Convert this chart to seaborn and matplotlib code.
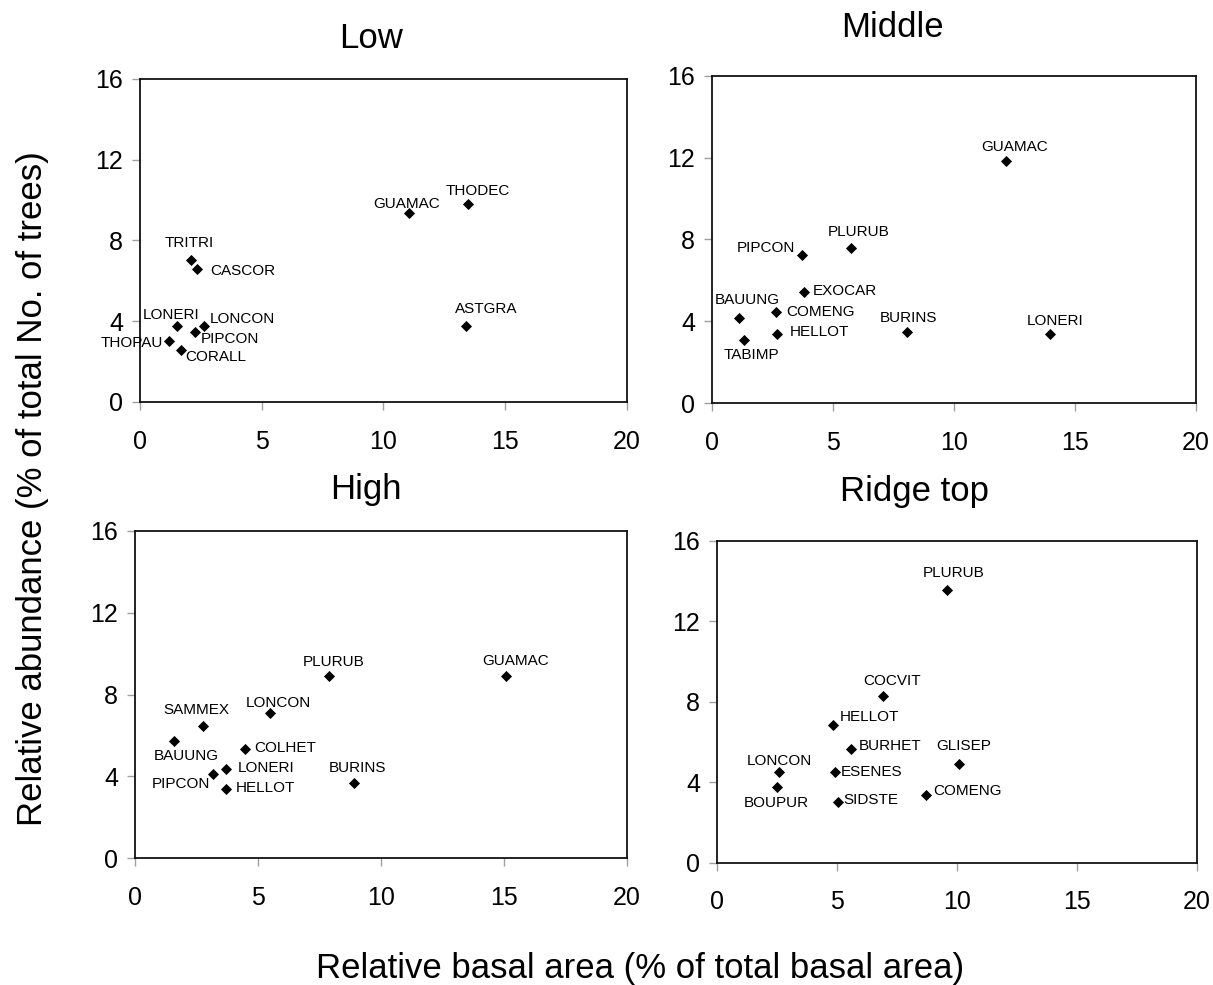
import pandas as pd
import seaborn as sns
import matplotlib.pyplot as plt

sns.set_theme(style="white")
plt.rcParams['font.family'] = ['Liberation Sans', 'DejaVu Sans']
plt.rcParams['text.color'] = 'black'

# --- data: relative basal area (x) vs relative abundance (y)
low_names = ["TRITRI", "CASCOR", "GUAMAC", "THODEC", "ASTGRA", "LONERI", "LONCON", "PIPCON", "THOPAU", "CORALL"]
low_x = [2.10, 2.35, 11.04, 13.47, 13.40, 1.52, 2.64, 2.26, 1.18, 1.67]
low_y = [7.01, 6.57, 9.36, 9.80, 3.78, 3.78, 3.78, 3.45, 3.04, 2.59]

mid_names = ["GUAMAC", "PLURUB", "PIPCON", "EXOCAR", "BAUUNG", "COMENG", "HELLOT", "TABIMP", "BURINS", "LONERI"]
mid_x = [12.13, 5.74, 3.71, 3.81, 1.10, 2.63, 2.70, 1.32, 8.07, 13.96]
mid_y = [11.84, 7.56, 7.25, 5.44, 4.15, 4.46, 3.39, 3.08, 3.49, 3.39]

high_names = ["PLURUB", "GUAMAC", "LONCON", "SAMMEX", "BAUUNG", "COLHET", "LONERI", "PIPCON", "HELLOT", "BURINS"]
high_x = [7.89, 15.08, 5.49, 2.75, 1.58, 4.49, 3.69, 3.18, 3.69, 8.91]
high_y = [8.91, 8.91, 7.12, 6.47, 5.73, 5.33, 4.36, 4.14, 3.40, 3.70]

ridge_names = ["PLURUB", "COCVIT", "HELLOT", "BURHET", "GLISEP", "LONCON", "ESENES", "BOUPUR", "SIDSTE", "COMENG"]
ridge_x = [9.60, 6.94, 4.83, 5.61, 10.11, 2.60, 4.92, 2.52, 5.05, 8.72]
ridge_y = [13.54, 8.29, 6.82, 5.66, 4.92, 4.49, 4.49, 3.77, 3.03, 3.34]

x_ticks = [0, 5, 10, 15, 20]
y_ticks = [0, 4, 8, 12, 16]

# label placement (pixel offsets from the point, horizontal alignment)
low_lab = [(-2, 17, "center"), (13, -2, "left"), (-2, 9, "center"), (10, 13, "center"), (20, 17, "center"),
           (-6, 11, "center"), (5, 7, "left"), (6, -7, "left"), (-6, -2, "right"), (5, -7, "left")]
mid_lab = [(9, 14, "center"), (8, 16, "center"), (-7, 7, "right"), (9, 1, "left"), (9, 18, "center"),
           (11, 0, "left"), (12, 2, "left"), (7, -15, "center"), (1, 14, "center"), (5, 13, "center")]
high_lab = [(5, 14, "center"), (10, 15, "center"), (8, 10, "center"), (-6, 16, "center"), (12, -15, "center"),
            (9, 1, "left"), (12, 1, "left"), (-3, -10, "right"), (10, 1, "left"), (3, 15, "center")]
ridge_lab = [(6, 17, "center"), (9, 15, "center"), (7, 8, "left"), (7, 3, "left"), (4, 18, "center"),
             (0, 11, "center"), (6, 0, "left"), (-1, -16, "center"), (5, 2, "left"), (7, 4, "left")]

panels = [
    ("Low", low_names, low_x, low_y, low_lab, [0.1154, 0.5919, 0.4015, 0.3279], 0.474, 40),
    ("Middle", mid_names, mid_x, mid_y, mid_lab, [0.5870, 0.5906, 0.3990, 0.3326], 0.372, 48),
    ("High", high_names, high_x, high_y, high_lab, [0.1113, 0.1286, 0.4053, 0.3326], 0.470, 41),
    ("Ridge top", ridge_names, ridge_x, ridge_y, ridge_lab, [0.5908, 0.1242, 0.3959, 0.3269], 0.412, 49),
]

fig = plt.figure(figsize=(12.13, 9.85), dpi=100)

for title, names, xs, ys, labs, pos, tx, tdy in panels:
    ax = fig.add_axes(pos)
    df = pd.DataFrame({"species": names, "basal": xs, "abund": ys})
    sns.scatterplot(data=df, x="basal", y="abund", marker="D", color="black",
                    s=32, linewidth=0, ax=ax, legend=False)
    ax.set_xlim(0, 20)
    ax.set_ylim(0, 16)
    ax.set_xticks(x_ticks)
    ax.set_yticks(y_ticks)
    ax.set_xlabel("")
    ax.set_ylabel("")
    ax.tick_params(axis="both", which="major", direction="out", length=6, width=1,
                   color="#a0a0a0", labelsize=18, labelcolor="black")
    ax.tick_params(axis="x", pad=14, bottom=True)
    ax.tick_params(axis="y", pad=6, left=True)
    for sp in ax.spines.values():
        sp.set_color("#111111")
        sp.set_linewidth(1.3)
    for name, x, y, (dx, dy, ha) in zip(df["species"], df["basal"], df["abund"], labs):
        ax.annotate(name, (x, y), xytext=(dx, dy), textcoords="offset pixels",
                    ha=ha, va="center", fontsize=11, color="black")
    ax.annotate(title, (tx, 1), xycoords="axes fraction", xytext=(0, tdy),
                textcoords="offset pixels", ha="center", va="center", fontsize=25,
                color="black")

fig.text(0.5276, 0.017, "Relative basal area (% of total basal area)",
         ha="center", va="center", fontsize=25, color="black")
fig.text(0.027, 0.5036, "Relative abundance (% of total No. of trees)",
         ha="center", va="center", rotation=90, fontsize=25, color="black")

fig.savefig("out.png", dpi=100)
